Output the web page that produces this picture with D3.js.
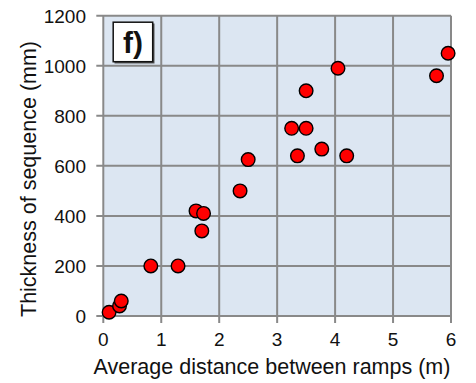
<!DOCTYPE html>
<html><head><meta charset="utf-8">
<script src="https://cdn.jsdelivr.net/npm/d3@7"></script>
<style>body{margin:0;background:#fff}svg{display:block}text{font-family:"Liberation Sans",Arial,sans-serif}</style>
</head><body><svg id="c" width="476" height="383"></svg>
<script>
const distance = [0.10, 0.28, 0.31, 0.82, 1.29, 1.60, 1.73, 1.70, 2.36, 2.50, 3.25, 3.50, 3.35, 3.77, 4.20, 3.50, 4.05, 5.75, 5.95];
const thickness = [15, 40, 60, 200, 200, 420, 410, 340, 500, 625, 750, 750, 640, 667, 640, 900, 990, 960, 1050];
const xTicks = [0, 1, 2, 3, 4, 5, 6];
const yTicks = [0, 200, 400, 600, 800, 1000, 1200];
const xTitle = "Average distance between ramps (m)";
const yTitle = "Thickness of sequence (mm)";
const panelLabel = "f)";

const svg = d3.select("#c");
const L = 103.3, R = 451, T = 15.7, B = 316;
const x = d3.scaleLinear().domain([0, 6]).range([L, R]);
const y = d3.scaleLinear().domain([0, 1200]).range([B, T]);
const grid = "#898989";

svg.append("rect").attr("x", L).attr("y", T).attr("width", R - L).attr("height", B - T).attr("fill", "#dce6f2");

svg.append("g").selectAll("line").data(xTicks).join("line")
  .attr("x1", d => x(d)).attr("x2", d => x(d)).attr("y1", T).attr("y2", B + 7)
  .attr("stroke", grid).attr("stroke-width", 2);
svg.append("g").selectAll("line").data(yTicks).join("line")
  .attr("x1", L - 7).attr("x2", R).attr("y1", d => y(d)).attr("y2", d => y(d))
  .attr("stroke", grid).attr("stroke-width", 2);

svg.append("g").selectAll("text").data(xTicks).join("text")
  .attr("x", d => x(d)).attr("y", 346).attr("text-anchor", "middle")
  .attr("font-size", 19).attr("fill", "#111").text(d => d);
svg.append("g").selectAll("text").data(yTicks).join("text")
  .attr("x", 86).attr("y", d => y(d) + 6.8).attr("text-anchor", "end")
  .attr("font-size", 19).attr("fill", "#111").text(d => d);

svg.append("text").attr("x", 272).attr("y", 374).attr("text-anchor", "middle")
  .attr("font-size", 21.5).attr("fill", "#111").text(xTitle);
svg.append("text").attr("transform", "translate(36,179) rotate(-90)").attr("text-anchor", "middle")
  .attr("font-size", 21.5).attr("fill", "#111").text(yTitle);

// panel label box
svg.append("rect").attr("x", 114.5).attr("y", 23.5).attr("width", 40).attr("height", 40).attr("fill", "#555");
svg.append("rect").attr("x", 113.2).attr("y", 22.2).attr("width", 39.5).attr("height", 39.5)
  .attr("fill", "#fff").attr("stroke", "#111").attr("stroke-width", 1.5);
svg.append("text").attr("x", 133).attr("y", 53).attr("text-anchor", "middle")
  .attr("font-size", 30).attr("font-weight", "bold").attr("fill", "#111").text(panelLabel);

svg.append("g").selectAll("circle").data(distance.map((d, i) => [d, thickness[i]])).join("circle")
  .attr("cx", d => x(d[0])).attr("cy", d => y(d[1])).attr("r", 6.8)
  .attr("fill", "#ff0000").attr("stroke", "#000").attr("stroke-width", 1.4);
</script></body></html>
